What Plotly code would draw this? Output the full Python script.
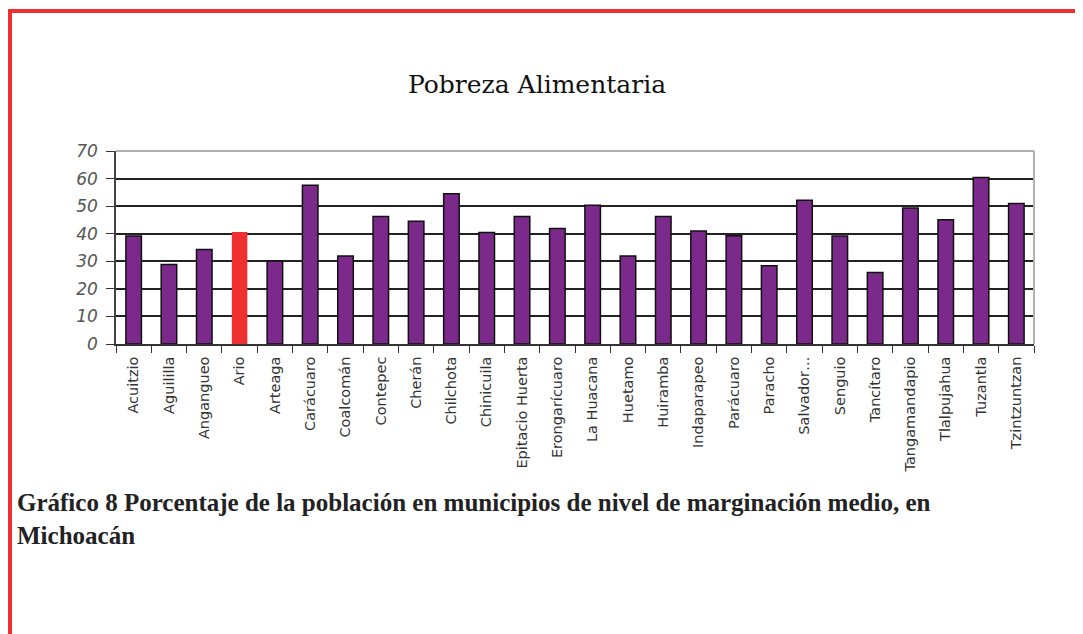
import plotly.graph_objects as go

# Municipios y porcentaje de pobreza alimentaria
municipios = [
    "Acuitzio", "Aguililla", "Angangueo", "Ario", "Arteaga", "Carácuaro",
    "Coalcomán", "Contepec", "Cherán", "Chilchota", "Chinicuila",
    "Epitacio Huerta", "Erongarícuaro", "La Huacana", "Huetamo", "Huiramba",
    "Indaparapeo", "Parácuaro", "Paracho", "Salvador…", "Senguio",
    "Tancítaro", "Tangamandapio", "Tlalpujahua", "Tuzantla", "Tzintzuntzan",
]
pobreza = [
    39.2, 28.8, 34.3, 40.6, 30.1, 57.6,
    31.9, 46.2, 44.5, 54.5, 40.4,
    46.2, 41.9, 50.3, 31.9, 46.2,
    41.0, 39.3, 28.4, 52.1, 39.2,
    25.9, 49.3, 45.1, 60.4, 51.0,
]
resaltado = "Ario"
y_ticks = [0, 10, 20, 30, 40, 50, 60, 70]

# la página tiene 8 px de margen en el body
OFF = 8
W, H = 1083 - OFF, 634 - OFF
L, R, T, B = 116 - OFF, 49, 151 - OFF, 290
pw, ph = W - L - R, H - T - B

def px_x(x):
    return (x - OFF - L) / pw

def px_y(y):
    return (H - B - (y - OFF)) / ph

morado = "#7b2a8c"
rojo = "#ee3030"
colores = [rojo if m == resaltado else morado for m in municipios]
bordes = ["rgba(0,0,0,0)" if m == resaltado else "#111" for m in municipios]

fig = go.Figure(go.Bar(
    x=municipios,
    y=pobreza,
    marker=dict(color=colores, line=dict(color=bordes, width=1.5)),
    width=0.44,
    hoverinfo="x+y",
))

fig.update_layout(
    width=W, height=H,
    margin=dict(l=L, r=R, t=T, b=B),
    paper_bgcolor="white",
    plot_bgcolor="white",
    showlegend=False,
    title=dict(
        text="Pobreza Alimentaria",
        x=(537 - OFF) / W, xanchor="center",
        y=1 - (84 - OFF) / H, yanchor="middle",
        font=dict(family="DejaVu Serif", size=25, color="#111"),
    ),
)

fig.update_xaxes(
    type="category",
    tickangle=-90,
    tickfont=dict(family="DejaVu Sans", size=14.5, color="#333"),
    ticks="outside", ticklen=7, tickcolor="#333", tickwidth=1.2,
    tickson="boundaries",
    ticklabelstandoff=5,
    showline=True, linecolor="#333", linewidth=1.5,
    showgrid=False,
)

fig.update_yaxes(
    range=[0, 70],
    tickvals=y_ticks,
    tickfont=dict(family="DejaVu Sans", size=17, color="#555", style="italic"),
    ticks="outside", ticklen=8, tickcolor="#333", tickwidth=1.2,
    ticklabelstandoff=5,
    showline=True, linecolor="#444", linewidth=1.5,
    showgrid=True, gridcolor="#222", gridwidth=1.5,
    zeroline=False,
)

# Borde gris superior y derecho del área de trazado
fig.add_shape(type="line", xref="paper", yref="paper", x0=0, x1=1, y0=1, y1=1,
              line=dict(color="#b0b0b0", width=2))
fig.add_shape(type="line", xref="paper", yref="paper", x0=1, x1=1, y0=0, y1=1,
              line=dict(color="#b0b0b0", width=2))

# Marco rojo de la página
fig.add_shape(type="line", xref="paper", yref="paper",
              x0=px_x(8), x1=px_x(1090), y0=px_y(11), y1=px_y(11),
              line=dict(color="#f03030", width=4))
fig.add_shape(type="line", xref="paper", yref="paper",
              x0=px_x(10), x1=px_x(10), y0=px_y(9), y1=px_y(640),
              line=dict(color="#f03030", width=4))

# Pie de gráfico
fig.add_annotation(
    xref="paper", yref="paper",
    x=px_x(15), y=px_y(519), xanchor="left", yanchor="middle",
    align="left", showarrow=False,
    text="<b>Gráfico 8 Porcentaje de la población en municipios de nivel de marginación medio, en<br>Michoacán</b>",
    font=dict(family="Liberation Serif", size=25, color="#222"),
)

fig.write_html("out.html")
